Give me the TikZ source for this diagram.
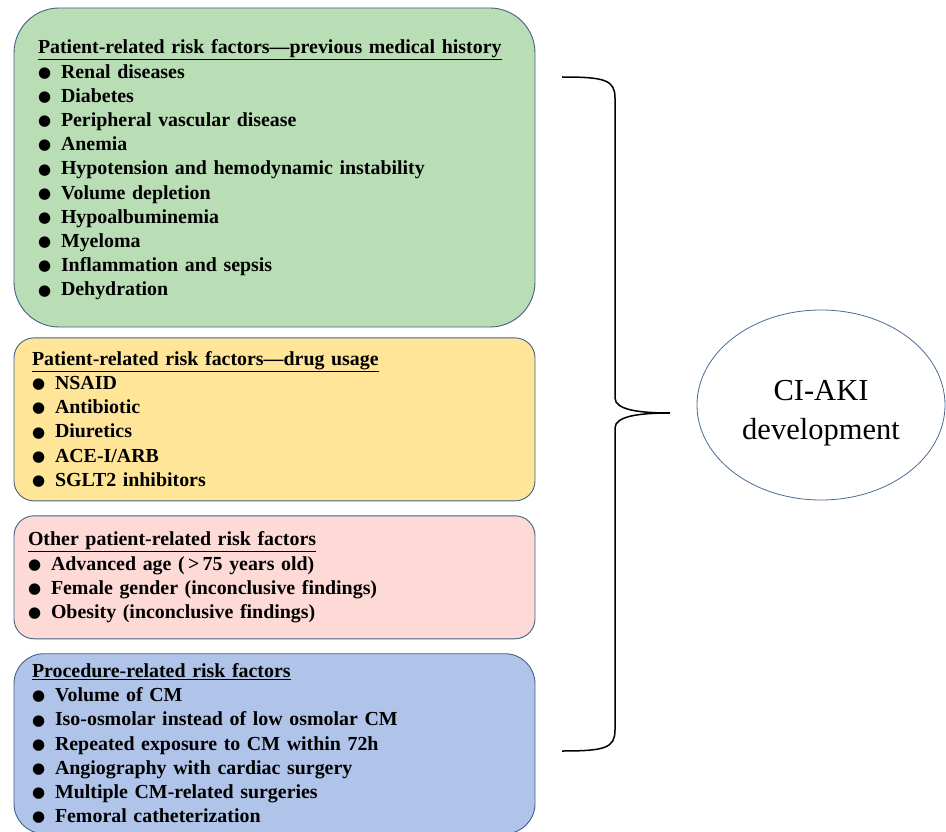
\documentclass[tikz,border=0pt]{standalone}
\usepackage{fontspec}
\setmainfont{Liberation Serif}
\newfontfamily\bulletfont{DejaVu Sans}
\usepackage{tikz}
\usetikzlibrary{positioning}
\usetikzlibrary{shapes.geometric}

\definecolor{boxline}{HTML}{41618A}
\definecolor{histgreen}{HTML}{B9DDB5}
\definecolor{druggold}{HTML}{FFE598}
\definecolor{otherpink}{HTML}{FDDAD6}
\definecolor{procblue}{HTML}{AFC4E8}
\definecolor{ovalline}{HTML}{4A6C94}

\newcommand{\itm}{\makebox[23pt][l]{\raisebox{0.8pt}{\bulletfont\fontsize{15}{15}\selectfont ●}}}

\begin{document}
\begin{tikzpicture}[x=1pt, y=-1pt]
  \tikzset{mybox/.style={draw=boxline, line width=0.9pt, align=left, minimum width=521pt,
      font=\fontsize{19.9}{24.2}\selectfont\bfseries}};
  \tikzset{mynode/.style={ellipse, draw=ovalline, line width=0.8pt, minimum width=248pt,
      minimum height=190pt, align=center, text height=76pt,
      font=\rmfamily\fontsize{30.5}{39}\selectfont}};
  \tikzset{mybrace/.style={line width=1.5pt}};
  \useasboundingbox (0,0) rectangle (946,832);

  \node[mybox, fill=histgreen, rounded corners=45pt, inner xsep=24pt, text width=473pt,
    minimum height=319pt, text height=19pt] (hist) at (274.5,167.5) {%
    \underline{Patient-related risk factors—previous medical history}\\
    \itm Renal diseases\\
    \itm Diabetes\\
    \itm Peripheral vascular disease\\
    \itm Anemia\\
    \itm Hypotension and hemodynamic instability\\
    \itm Volume depletion\\
    \itm Hypoalbuminemia\\
    \itm Myeloma\\
    \itm Inflammation and sepsis\\
    \itm Dehydration};
  \node[mybox, fill=druggold, rounded corners=20pt, inner xsep=18pt, text width=485pt,
    minimum height=163pt, below=10pt] (drug) at (hist.south) {%
    \underline{Patient-related risk factors—drug usage}\\
    \itm NSAID\\
    \itm Antibiotic\\
    \itm Diuretics\\
    \itm ACE-I/ARB\\
    \itm SGLT2 inhibitors};
  \node[mybox, fill=otherpink, rounded corners=20pt, inner xsep=14pt, text width=493pt,
    minimum height=123pt, below=14pt] (other) at (drug.south) {%
    \underline{Other patient-related risk factors}\\
    \itm Advanced age (\,>\,75 years old)\\
    \itm Female gender (inconclusive findings)\\
    \itm Obesity (inconclusive findings)};
  \node[mybox, fill=procblue, rounded corners=30pt, inner xsep=18pt, text width=485pt,
    minimum height=180pt, below=14pt] (proc) at (other.south) {%
    \underline{Procedure-related risk factors}\\
    \itm Volume of CM\\
    \itm Iso-osmolar instead of low osmolar CM\\
    \itm Repeated exposure to CM within 72h\\
    \itm Angiography with cardiac surgery\\
    \itm Multiple CM-related surgeries\\
    \itm Femoral catheterization};

  \node[mynode] (aki) at (821,405) {CI-AKI\\development};

  \coordinate (bt) at (562,77);
  \coordinate (bb) at (562,751);
  \coordinate (tip) at (670,413);
  \draw[mybrace] (bt) .. controls (605,77) and (615,80) .. (615,98) -- (615,398)
    .. controls (615,410) and (640,413) .. (tip)
    .. controls (640,413) and (615,416) .. (615,428) -- (615,730)
    .. controls (615,748) and (605,751) .. (bb);
\end{tikzpicture}
\end{document}
